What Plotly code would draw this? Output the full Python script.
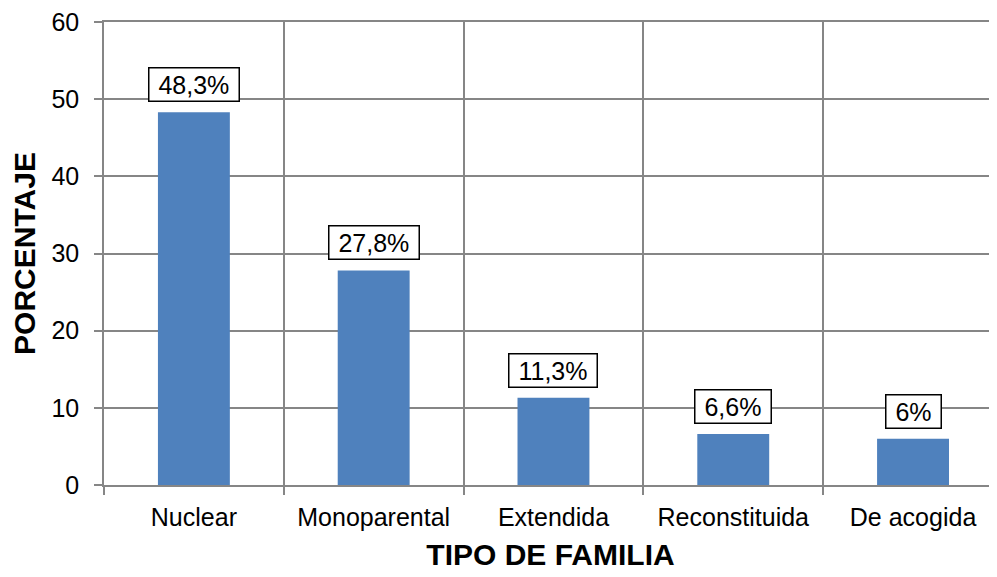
import plotly.graph_objects as go

# datos del gráfico
tipos = ["Nuclear", "Monoparental", "Extendida", "Reconstituida", "De acogida"]
porcentajes = [48.3, 27.8, 11.3, 6.6, 6]
etiquetas = [" " + f"{v:g}".replace(".", ",") + "% " for v in porcentajes]
ticks_y = [0, 10, 20, 30, 40, 50, 60]

azul = "#4F81BD"
gris = "#868686"
fuente = "Arial, Liberation Sans, sans-serif"

fig = go.Figure()
fig.add_trace(go.Bar(x=tipos, y=porcentajes, width=0.4,
                     marker=dict(color=azul, line=dict(width=0))))

for t, v, e in zip(tipos, porcentajes, etiquetas):
    fig.add_annotation(x=t, y=v, text=e, showarrow=False, yanchor="bottom",
                       yshift=10, bgcolor="white", bordercolor="black",
                       borderwidth=1.5, borderpad=2,
                       font=dict(family=fuente, size=25, color="black"))

# la página tiene un margen de 8px, se compensa aquí
fig.update_layout(
    width=989, height=569,
    margin=dict(l=96, r=0, t=12, b=92),
    plot_bgcolor="white", paper_bgcolor="white",
    showlegend=False,
    font=dict(family=fuente, size=25, color="black"),
)
fig.update_xaxes(
    range=[-0.5, 4.467], tickson="boundaries",
    showgrid=True, gridcolor=gris, gridwidth=1.5,
    showline=True, linecolor=gris, linewidth=1.5, mirror=True,
    ticks="outside", ticklen=8, tickcolor=gris, tickwidth=1.5,
    tickfont=dict(size=25), ticklabelstandoff=9,
    title=dict(text="<b>TIPO DE FAMILIA</b>", font=dict(size=30), standoff=14),
)
fig.update_yaxes(
    range=[0, 60], tickvals=ticks_y, ticktext=[str(v) for v in ticks_y],
    showgrid=True, gridcolor=gris, gridwidth=1.5,
    showline=True, linecolor=gris, linewidth=1.5, zeroline=False,
    ticks="outside", ticklen=8, tickcolor=gris, tickwidth=1.5,
    tickfont=dict(size=25), ticklabelstandoff=10, ticklabeloverflow="allow",
    title=dict(text="<b>PORCENTAJE</b>", font=dict(size=30), standoff=10),
)

fig.write_html("out.html")
